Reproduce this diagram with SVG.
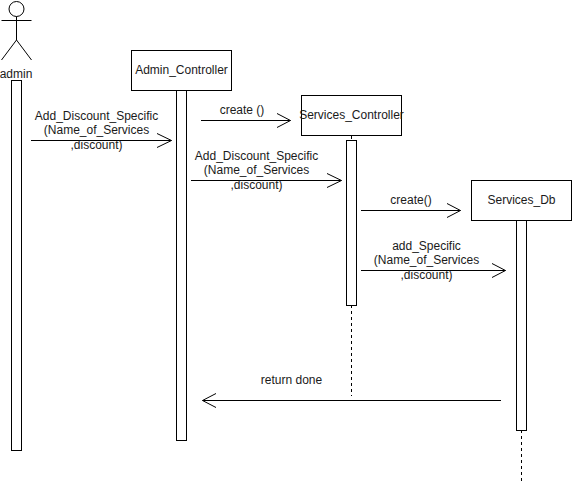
<svg xmlns="http://www.w3.org/2000/svg" width="572" height="481" viewBox="0 0 572 481">
<style>
.b{fill:#fff;stroke:#000;stroke-width:1}
.l{fill:none;stroke:#000;stroke-width:1}
.d{fill:none;stroke:#000;stroke-width:1;stroke-dasharray:3 3}
text{font-family:"Liberation Sans",Arial,sans-serif;font-size:12px;fill:#1a1a1a;text-anchor:middle}
</style>
<rect width="572" height="481" fill="#fff"/>
<g id="connectors">
<path class="d" d="M351.500 136V146M351.500 305V396M521.500 430V481"/>
</g>
<g id="admin">
<circle class="l" cx="16.500" cy="9" r="7.500"/>
<path class="l" d="M16.500 16.500V40M1.500 20.500H31.500M16.500 40L1.500 60M16.500 40L31.500 60"/>
<text x="16" y="78">admin</text>
<rect class="b" x="11.500" y="80.500" width="10" height="370"/>
</g>
<g id="admin_controller">
<rect class="b" x="176.500" y="90.500" width="10" height="350"/>
<rect class="b" x="131.500" y="50.500" width="100" height="40"/>
<text x="181.500" y="74">Admin_Controller</text>
</g>
<g id="services_controller">
<rect class="b" x="346.500" y="140.500" width="10" height="165"/>
<rect class="b" x="301.500" y="95.500" width="100" height="40"/>
<text x="351.500" y="119">Services_Controller</text>
</g>
<g id="services_db">
<rect class="b" x="516.500" y="220.500" width="10" height="210"/>
<rect class="b" x="471.500" y="180.500" width="100" height="40"/>
<text x="521.500" y="204">Services_Db</text>
</g>
<g id="messages">
<path class="l" d="M31 140.500H171.500M157 133.500L171.500 140.500L157 147.500"/>
<text x="96.500" y="120">Add_Discount_Specific</text>
<text x="96.500" y="134">(Name_of_Services</text>
<text x="96.500" y="149">,discount)</text>
<path class="l" d="M201 120.500H290.500M277 113.500L290.500 120.500L277 127.500"/>
<text x="242" y="114">create ()</text>
<path class="l" d="M191 180.500H341.500M327 173.500L341.500 180.500L327 187.500"/>
<text x="256.500" y="160">Add_Discount_Specific</text>
<text x="256.500" y="174">(Name_of_Services</text>
<text x="256.500" y="189">,discount)</text>
<path class="l" d="M361 210.500H460.500M447 203.500L460.500 210.500L447 217.500"/>
<text x="411" y="204">create()</text>
<path class="l" d="M361 270.500H505.500M492 263.500L505.500 270.500L492 277.500"/>
<text x="426.500" y="250">add_Specific</text>
<text x="426.500" y="264">(Name_of_Services</text>
<text x="426.500" y="279">,discount)</text>
<path class="l" d="M501 400.500H202.500M216 393.500L202.500 400.500L216 407.500"/>
<text x="291.500" y="384">return done</text>
</g>
</svg>
